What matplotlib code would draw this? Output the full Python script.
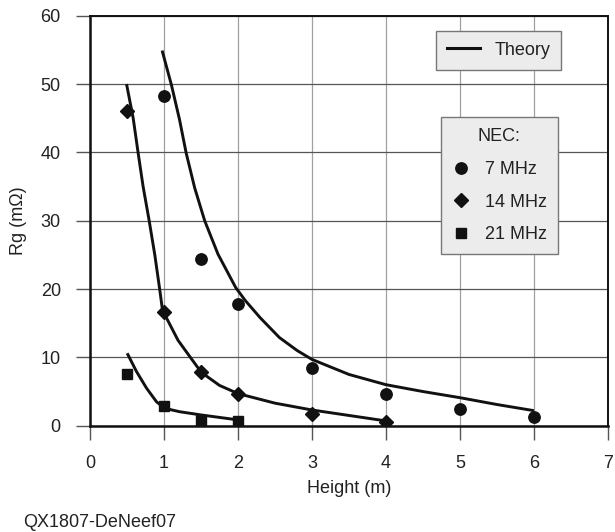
import matplotlib
matplotlib.use("Agg")
import matplotlib.pyplot as plt
from matplotlib.lines import Line2D

plt.rcParams['font.family'] = ['Liberation Sans', 'DejaVu Sans']

# NEC results
h_7 = [1, 1.5, 2, 3, 4, 5, 6]
rg_7 = [48.3, 24.4, 17.8, 8.4, 4.6, 2.4, 1.3]
h_14 = [0.5, 1, 1.5, 2, 3, 4]
rg_14 = [46.1, 16.6, 7.9, 4.6, 1.7, 0.5]
h_21 = [0.5, 1, 1.5, 2]
rg_21 = [7.5, 2.9, 0.8, 0.65]

# theory curves, points
th_h_7 = [0.975, 1.1, 1.21, 1.3, 1.415, 1.55, 1.73, 1.97, 2.1, 2.3, 2.56,
          2.8, 3.0, 3.5, 4.0, 4.5, 5.0, 5.5, 6.0]
th_rg_7 = [54.9, 49.9, 44.8, 39.9, 34.8, 30.0, 25.1, 20.2, 18.3, 15.8, 12.9,
           11.0, 9.7, 7.5, 6.0, 5.0, 4.1, 3.1, 2.2]
th_h_14 = [0.494, 0.584, 0.651, 0.718, 0.8, 0.876, 0.943, 0.98, 1.19, 1.35,
           1.505, 1.75, 2.0, 2.5, 3.0, 4.0]
th_rg_14 = [50.0, 45.0, 39.9, 35.0, 30.0, 25.0, 19.9, 16.9, 12.5, 10.1,
            7.8, 5.9, 4.7, 3.3, 2.3, 0.7]
th_h_21 = [0.503, 0.63, 0.764, 0.899, 1.01, 1.21, 1.505, 2.0]
th_rg_21 = [10.6, 7.9, 5.5, 3.5, 2.55, 2.05, 1.57, 0.85]

x_ticks = [0, 1, 2, 3, 4, 5, 6, 7]
y_ticks = [0, 10, 20, 30, 40, 50, 60]

fs = 13
txt = '#222222'

fig = plt.figure(figsize=(6.15, 5.32), dpi=100)
ax = fig.add_axes([0.1463, 0.1998, 0.8423, 0.7707])

for hx, ry in [(th_h_7, th_rg_7), (th_h_14, th_rg_14), (th_h_21, th_rg_21)]:
    ax.plot(hx, ry, color='#111111', lw=2.1, zorder=3,
            solid_joinstyle='round', solid_capstyle='butt')

ax.plot(h_7, rg_7, 'o', color='#111111', ms=8.2, ls='none', zorder=4)
ax.plot(h_14, rg_14, 'D', color='#111111', ms=7.6, ls='none', zorder=4)
ax.plot(h_21, rg_21, 's', color='#111111', ms=7.6, ls='none', zorder=4)

ax.set_xlim(0, 7)
ax.set_ylim(0, 60)
ax.set_xticks(x_ticks)
ax.set_yticks(y_ticks)
ax.tick_params(axis='both', direction='out', length=10, width=1.0, color='#555555',
               labelsize=fs, labelcolor=txt, pad=11)

ax.xaxis.grid(True, color='#a0a0a0', lw=0.9)
ax.yaxis.grid(True, color='#555555', lw=0.9)
ax.set_axisbelow(True)

for side in ['left', 'bottom']:
    ax.spines[side].set_linewidth(1.8)
    ax.spines[side].set_color('#111111')
for side in ['top', 'right']:
    ax.spines[side].set_linewidth(1.4)
    ax.spines[side].set_color('#111111')

ax.set_xlabel('Height (m)', fontsize=fs, color=txt, labelpad=6)
ax.set_ylabel('Rg (mΩ)', fontsize=fs, color=txt, labelpad=10)

theory_handle = [Line2D([], [], color='#111111', lw=2.2)]
leg1 = ax.legend(theory_handle, ['Theory'], loc='upper left',
                 bbox_to_anchor=(0.709, 0.942), bbox_transform=fig.transFigure,
                 borderaxespad=0, fontsize=fs, fancybox=False, framealpha=1,
                 facecolor='#ececec', edgecolor='#777777', handlelength=1.85,
                 handletextpad=0.8, borderpad=0.6)
for t in leg1.get_texts():
    t.set_color(txt)
ax.add_artist(leg1)

nec_handles = [Line2D([], [], marker='o', color='#111111', ls='none', ms=8.2),
               Line2D([], [], marker='D', color='#111111', ls='none', ms=7.6),
               Line2D([], [], marker='s', color='#111111', ls='none', ms=7.6)]
leg2 = ax.legend(nec_handles, ['7 MHz', '14 MHz', '21 MHz'], title='NEC:',
                 loc='upper left', bbox_to_anchor=(0.7166, 0.7795),
                 bbox_transform=fig.transFigure, borderaxespad=0, fontsize=fs,
                 title_fontsize=fs, fancybox=False, framealpha=1,
                 facecolor='#ececec', edgecolor='#777777', handlelength=1.0,
                 handletextpad=0.85, borderpad=0.6, labelspacing=0.87)
for t in leg2.get_texts():
    t.set_color(txt)
leg2.get_title().set_color(txt)

fig.text(0.037, 0.017, 'QX1807-DeNeef07', fontsize=fs, color=txt, va='center', ha='left')

fig.savefig('out.png', dpi=100)
